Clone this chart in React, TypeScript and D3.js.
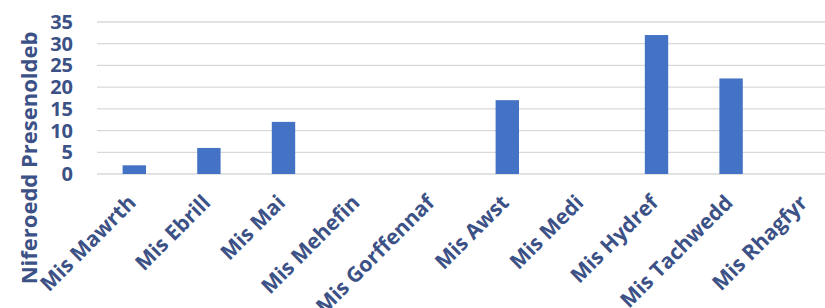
import React from 'react';
import * as d3 from 'd3';

const months = [
    'Mis Mawrth', 'Mis Ebrill', 'Mis Mai', 'Mis Mehefin', 'Mis Gorffennaf',
    'Mis Awst', 'Mis Medi', 'Mis Hydref', 'Mis Tachwedd', 'Mis Rhagfyr',
];
const attendance = [2, 6, 12, 0, 0, 17, 0, 32, 22, 0];
const yTicks = [0, 5, 10, 15, 20, 25, 30, 35];
const yTitle = 'Niferoedd Presenoldeb';

const W = 825;
const H = 308;
const left = 97;
const right = 843; // plot runs past the visible edge
const top = 22;
const bottom = 174;
const textColor = '#3C5185';
const font = "'Open Sans', sans-serif";

const App: React.FC = () => {
    const x = d3.scaleBand<string>().domain(months).range([left, right]).padding(0);
    const y = d3.scaleLinear().domain([0, 35]).range([bottom, top]);
    const barW = x.bandwidth() / 3.19;

    return (
        <svg width={W} height={H} style={{position: 'absolute', left: 0, top: 0}}
             fontFamily={font} fontWeight="bold">
            {/* grid */}
            {yTicks.map(t => (
                <line key={t} x1={left} x2={right} y1={y(t)} y2={y(t)}
                      stroke="#D9D9D9" strokeWidth={1.3}/>
            ))}
            {/* bars */}
            {months.map((m, i) => attendance[i] > 0 && (
                <rect key={m}
                      x={(x(m) as number) + x.bandwidth() / 2 - barW / 2}
                      y={y(attendance[i])}
                      width={barW}
                      height={y(0) - y(attendance[i])}
                      fill="#4472C4"/>
            ))}
            {/* y tick labels */}
            {yTicks.map(t => (
                <text key={t} x={73} y={y(t)} dy="0.35em" textAnchor="end"
                      fontSize={20} fill={textColor}>{t}</text>
            ))}
            {/* x labels */}
            {months.map(m => {
                const cx = (x(m) as number) + x.bandwidth() / 2 + 3;
                const cy = 204;
                return (
                    <text key={m} x={cx} y={cy} textAnchor="end" fontSize={21}
                          fill={textColor} transform={`rotate(-45, ${cx}, ${cy})`}>{m}</text>
                );
            })}
            {/* y title */}
            <text x={0} y={0} textAnchor="middle" fontSize={22} fill={textColor}
                  transform={`translate(37, 158) rotate(-90)`}>{yTitle}</text>
        </svg>
    );
};

export default App;
